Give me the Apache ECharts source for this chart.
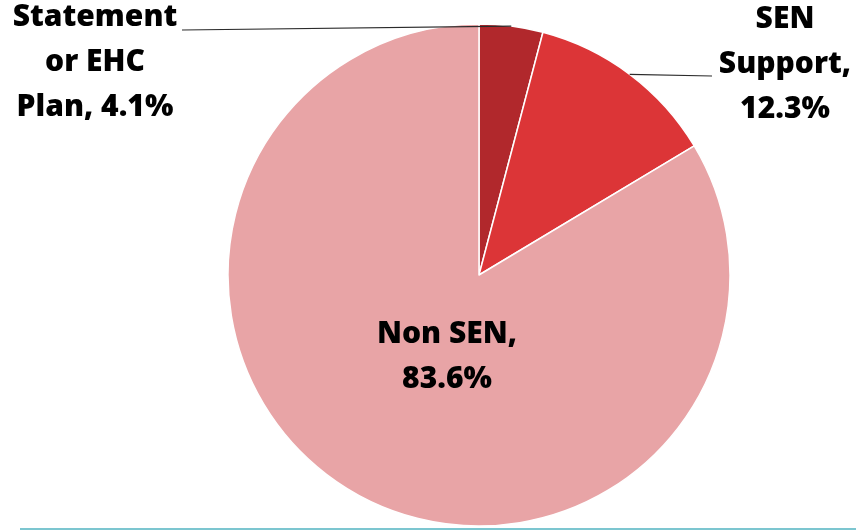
<!DOCTYPE html>
<html>
<head>
<meta charset="utf-8">
<script src="https://cdn.jsdelivr.net/npm/echarts@6/dist/echarts.min.js"></script>
<style>
  html, body { margin: 0; padding: 0; background: #fff; }
  #chart { width: 856px; height: 530px; }
</style>
</head>
<body>
<div id="chart"></div>
<script>
// Pupils by SEN provision (% of all pupils)
const categories = ['Statement or EHC Plan', 'SEN Support', 'Non SEN'];
const values = [4.1, 12.3, 83.6];
// How each category name is broken over lines in its label
const labelNames = ['Statement\nor EHC\nPlan', 'SEN\nSupport', 'Non SEN'];
const labelSeparators = [', ', ',\n', ',\n'];
const colors = ['#B1282C', '#DC3537', '#E8A4A6'];

// Where each label block sits (centre of the text block) and where its leader line ends
const labelSpots = [
  { x: 95, y: 62, lineEnd: [182, 30] },
  { x: 785, y: 64, lineEnd: [712, 76] },
  { x: 447, y: 357, lineEnd: null }
];

const pieCenter = [479, 275];
const pieRadius = [0, 251];

const chart = echarts.init(document.getElementById('chart'), null, { renderer: 'canvas' });

const labelStyle = {
  show: true,
  formatter: (p) => labelNames[p.dataIndex] + labelSeparators[p.dataIndex] + values[p.dataIndex].toFixed(1) + '%',
  fontFamily: 'Open Sans',
  fontWeight: 800,
  fontSize: 30,
  lineHeight: 45,
  color: '#000000',
  align: 'center'
};

chart.setOption({
  animation: false,
  backgroundColor: '#ffffff',
  series: [
    // Filled slices
    {
      type: 'pie',
      z: 2,
      center: pieCenter,
      radius: pieRadius,
      startAngle: 90,
      clockwise: true,
      itemStyle: { borderColor: '#ffffff', borderWidth: 1.5 },
      label: { show: false },
      labelLine: { show: false },
      data: categories.map((name, i) => ({
        name: name,
        value: values[i],
        itemStyle: { color: colors[i] }
      }))
    },
    // Same slices, unfilled, carrying the labels so leader lines sit above the fills
    {
      type: 'pie',
      z: 5,
      silent: true,
      center: pieCenter,
      radius: pieRadius,
      startAngle: 90,
      clockwise: true,
      avoidLabelOverlap: false,
      itemStyle: { color: 'rgba(0,0,0,0)', borderWidth: 0 },
      label: labelStyle,
      labelLine: {
        length: 10,
        length2: 10,
        lineStyle: { color: '#2b2b2b', width: 1.2 }
      },
      labelLayout: (params) => {
        const spot = labelSpots[params.dataIndex];
        const out = { x: spot.x, y: spot.y, align: 'center', verticalAlign: 'middle' };
        if (spot.lineEnd && params.labelLinePoints) {
          const start = params.labelLinePoints[0];
          out.labelLinePoints = [start, start, spot.lineEnd];
        }
        return out;
      },
      data: categories.map((name, i) => ({
        name: name,
        value: values[i],
        label: { position: labelSpots[i].lineEnd ? 'outside' : 'inside' },
        labelLine: { show: !!labelSpots[i].lineEnd }
      }))
    }
  ],
  graphic: [{
    type: 'line',
    shape: { x1: 20, y1: 529, x2: 856, y2: 529 },
    style: { stroke: '#7CC6D0', lineWidth: 2 },
    silent: true
  }]
});
</script>
</body>
</html>
